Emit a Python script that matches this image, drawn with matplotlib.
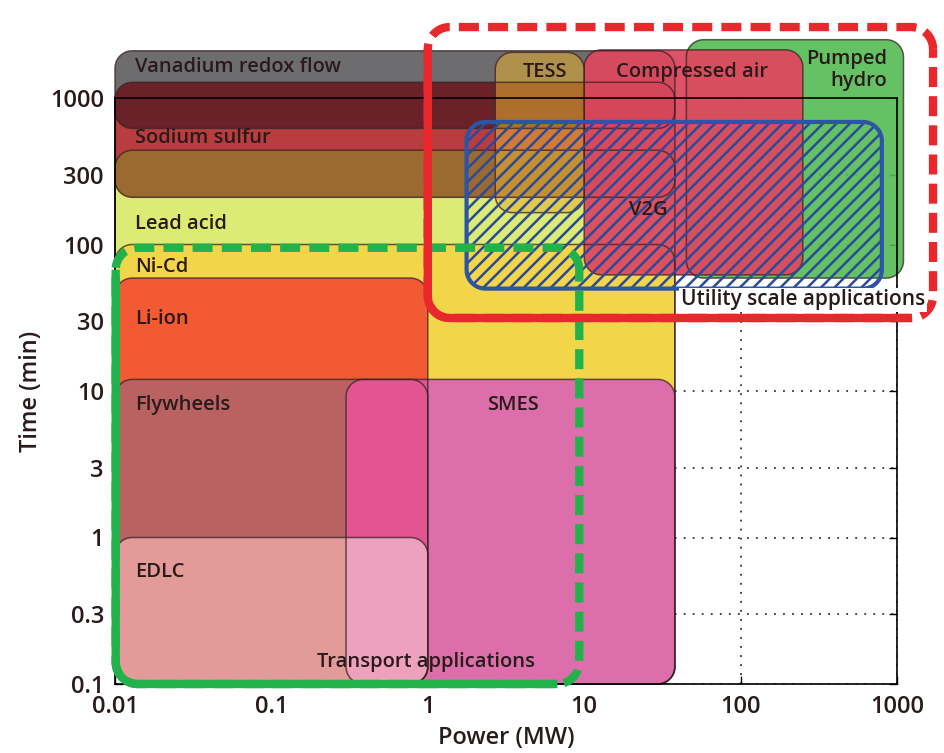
import numpy as np
import matplotlib
matplotlib.use('Agg')
import matplotlib.pyplot as plt
from matplotlib.patches import Polygon
from matplotlib.collections import LineCollection

plt.rcParams['font.family'] = ['Open Sans', 'DejaVu Sans']

# technology ranges: power (MW) and discharge time (min)
TECH = ['Lead acid', 'Ni-Cd', 'Sodium sulfur', 'Vanadium redox flow', 'Li-ion',
        'Flywheels', 'EDLC', 'SMES', 'Pumped hydro', 'TESS', 'Compressed air']
P_MIN = [0.01, 0.01, 0.01, 0.01, 0.01, 0.01, 0.01, 0.3, 45, 2.7, 10]
P_MAX = [38, 38, 38, 38, 1, 1, 1, 38, 1100, 10, 250]
T_MIN = [0.1, 0.1, 210, 620, 0.1, 0.1, 0.1, 0.1, 59, 165, 62]
T_MAX = [440, 100, 1280, 2100, 59, 12, 1, 12, 2500, 2050, 2130]
COLORS = ['#dbeb73', '#f3d54a', '#b93c3f', '#6d6d70', '#f25a33',
          '#ba6262', '#e29b98', '#dc6fab', '#53bc53', '#e8b030', '#dc495e']
ALPHAS = [1, 1, 1, 1, 1, 1, 1, 1, 0.9, 0.55, 0.95]

# colours seen where two ranges overlap
OVERLAPS = [('Vanadium redox flow', 'Sodium sulfur', '#6a2228'),
            ('Sodium sulfur', 'Lead acid', '#9b6a30'),
            ('SMES', 'Li-ion', '#e25591'),
            ('SMES', 'EDLC', '#eda1bd')]

# application envelopes
V2G = (1.77, 800, 50, 686)
UTILITY = (1.0, 1700, 31.5, 3050)
TRANSPORT = (0.0101, 9.3, 0.1, 95)

X_TICKS = [0.01, 0.1, 1, 10, 100, 1000]
X_LABELS = ['0.01', '0.1', '1', '10', '100', '1000']
Y_TICKS = [0.1, 0.3, 1, 3, 10, 30, 100, 300, 1000]
Y_LABELS = ['0.1', '0.3', '1', '3', '10', '30', '100', '300', '1000']

TXT = '#2a1a1a'


def rounded_verts(x0, x1, y0, y1, r=0.11, n=14):
    # rounded rectangle built in decades, returned in data units
    lx0, lx1, ly0, ly1 = np.log10([x0, x1, y0, y1])
    rx = min(r, (lx1 - lx0) / 2)
    ry = min(r * 1.07, (ly1 - ly0) / 2)
    corners = [(lx1 - rx, ly1 - ry, 0), (lx0 + rx, ly1 - ry, 90),
               (lx0 + rx, ly0 + ry, 180), (lx1 - rx, ly0 + ry, 270)]
    pts = []
    for cx, cy, a0 in corners:
        t = np.radians(np.linspace(a0, a0 + 90, n))
        pts.append(np.column_stack([cx + rx * np.cos(t), cy + ry * np.sin(t)]))
    return 10 ** np.vstack(pts)


def tech_verts(name):
    i = TECH.index(name)
    return rounded_verts(P_MIN[i], P_MAX[i], T_MIN[i], T_MAX[i])


fig = plt.figure(figsize=(9.45, 7.53), dpi=100)
ax_rect = [115 / 945, 69 / 753, 782 / 945, 586 / 753]
ax = fig.add_axes(ax_rect)
ax.set_xscale('log')
ax.set_yscale('log')
ax.set_xlim(0.01, 1000)
ax.set_ylim(0.1, 1000)

# fills
for i, name in enumerate(TECH):
    p = Polygon(tech_verts(name), closed=True, facecolor=COLORS[i], alpha=ALPHAS[i],
                edgecolor='none', zorder=1 + 0.1 * i if i < 8 else 2 + 0.1 * (i - 8),
                clip_on=False)
    ax.add_patch(p)

for k, (a, b, col) in enumerate(OVERLAPS):
    pa = Polygon(tech_verts(a), closed=True, facecolor=col, edgecolor='none',
                 zorder=1.85 + 0.01 * k)
    pb = Polygon(tech_verts(b), closed=True)
    pb.set_transform(ax.transData)
    pa.set_clip_path(pb)
    ax.add_patch(pa)

# outlines
for name in TECH:
    ax.add_patch(Polygon(tech_verts(name), closed=True, fill=False, edgecolor='#3a2222',
                         lw=1.1, alpha=0.75, zorder=2.4, clip_on=False))

# V2G hatched envelope
v2g = Polygon(rounded_verts(*V2G, r=0.12), closed=True, fill=False,
              edgecolor='#2d55a5', lw=3, zorder=3.1)
ax.add_patch(v2g)
w_px = 945 * ax_rect[2]
h_px = 753 * ax_rect[3]
segs = []
for c in np.arange(-w_px, h_px, 13.5):
    segs.append([(0, c / h_px), (1, (w_px + c) / h_px)])
hatch = LineCollection(segs, colors='#2a4a9a', linewidths=1.8, transform=ax.transAxes,
                       zorder=3.0)
hatch.set_clip_path(v2g)
ax.add_collection(hatch)


def envelope(box, color, solid_right):
    verts = rounded_verts(*box, r=0.14)
    n = len(verts) // 4
    ax.add_patch(Polygon(verts, closed=True, fill=False, edgecolor=color, lw=6,
                         linestyle=(0, (2.4, 1.1)), zorder=4, clip_on=False))
    solid = verts[2 * n - 1:3 * n + 1]
    solid = solid[solid[:, 0] <= solid_right]
    ax.plot(solid[:, 0], solid[:, 1], color=color, lw=6, zorder=4.05,
            solid_capstyle='butt', clip_on=False)


envelope(UTILITY, '#e8282c', 1300)
envelope(TRANSPORT, '#22b24c', 7.5)

# labels
LABEL_X = [0.0134, 0.0134, 0.0134, 0.0134, 0.0134, 0.0134, 0.0134, 3.5, 5.6, 49, 870, 25.6]
LABEL_Y = [1630, 533, 138, 70, 31, 8.0, 0.58, 8.0, 1500, 1500, 1550, 172]
LABELS = ['Vanadium redox flow', 'Sodium sulfur', 'Lead acid', 'Ni-Cd', 'Li-ion',
          'Flywheels', 'EDLC', 'SMES', 'TESS', 'Compressed air', 'Pumped\nhydro', 'V2G']
for j, s in enumerate(LABELS):
    ha = 'left' if j < 7 else ('right' if s.startswith('Pumped') else 'center')
    ax.text(LABEL_X[j], LABEL_Y[j], s, ha=ha, va='center', fontsize=14.5, color=TXT,
            fontweight='semibold', multialignment='right', linespacing=1.1,
            zorder=5, clip_on=False)

ax.text(41.5, 41.8, 'Utility scale applications', ha='left', va='center', fontsize=15,
        color=TXT, fontweight='semibold', zorder=4.5, clip_on=False,
        bbox=dict(facecolor='white', edgecolor='none', pad=1))
ax.text(0.197, 0.141, 'Transport applications', ha='left', va='center', fontsize=14.5,
        color=TXT, fontweight='semibold', zorder=5, clip_on=False)

# axes styling
ax.set_xticks(X_TICKS, labels=X_LABELS)
ax.set_yticks(Y_TICKS, labels=Y_LABELS)
ax.minorticks_off()
ax.tick_params(direction='in', length=6, width=1, top=True, right=True,
               labelsize=17, labelcolor=TXT, pad=8)
for lab in ax.get_xticklabels() + ax.get_yticklabels():
    lab.set_fontweight('semibold')
ax.grid(True, color='k', linestyle=(0, (1, 4)), linewidth=1.3, alpha=0.8)
ax.set_axisbelow(True)
for sp in ax.spines.values():
    sp.set_linewidth(1.2)

ax.set_xlabel('Power (MW)', fontsize=17, color=TXT, fontweight='semibold')
ax.xaxis.set_label_coords(0.5, -0.072)
ax.set_ylabel('Time (min)', fontsize=17, color=TXT, fontweight='semibold')
ax.yaxis.set_label_coords(-0.092, 0.5)

fig.savefig('out.png', dpi=100)
